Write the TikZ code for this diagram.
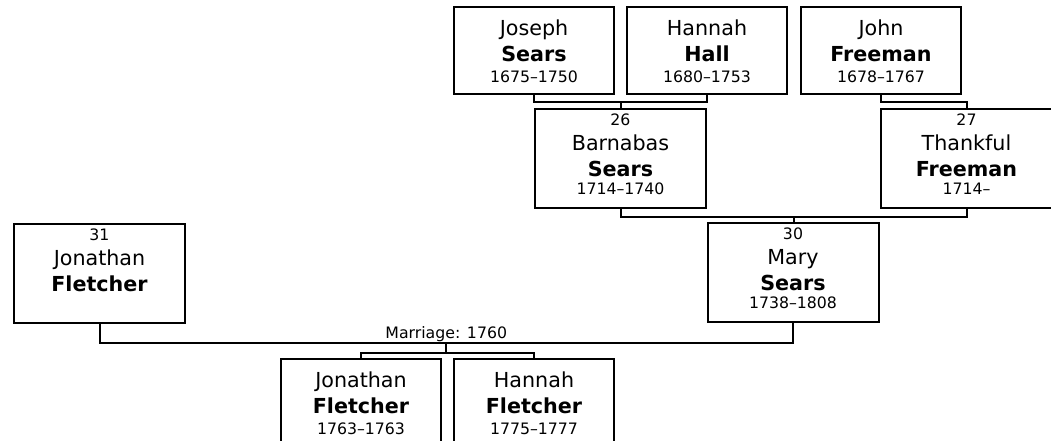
\documentclass[tikz,border=0pt]{standalone}
\usepackage{fontspec}
\setmainfont{DejaVu Sans}
\usetikzlibrary{calc}

% person cards: given name, surname, years (cardA) and with number (cardB)
\newcommand\cardA[3]{\parbox[t][65.25pt][t]{120pt}{\centering
  {\fontsize{15.5}{18}\selectfont\rule{0pt}{21.75pt}#1\par}
  {\fontsize{15.5}{19.5}\selectfont\bfseries #2\par}
  {\fontsize{11.8}{15.75}\selectfont #3\par}}}
\newcommand\cardB[4]{\parbox[t][74.25pt][t]{128.25pt}{\centering
  {\fontsize{11.8}{14}\selectfont\rule{0pt}{12.75pt}#1\par}
  {\fontsize{15.5}{18.75}\selectfont #2\par}
  {\fontsize{15.5}{19.5}\selectfont\bfseries #3\par}
  {\fontsize{11.8}{13.5}\selectfont #4\par}}}

\tikzset{
  person/.style={draw, line width=1.5pt, inner sep=0pt, anchor=north west},
  link/.style={line width=1.5pt},
}

\begin{document}
\begin{tikzpicture}[x=0.75pt, y=-0.75pt]
        \useasboundingbox (0,0) rectangle (1051,441);
        \clip (0,0) rectangle (1051,441);
        % great-grandparents
        \node[person] (joseph) at (453,6) {\cardA{Joseph}{Sears}{1675–1750}};
        \node[person] (hannahH) at (626,6) {\cardA{Hannah}{Hall}{1680–1753}};
        \node[person] (john) at (800,6) {\cardA{John}{Freeman}{1678–1767}};
        % grandparents
        \node[person] (barnabas) at (534,108) {\cardB{26}{Barnabas}{Sears}{1714–1740}};
        \node[person] (thankful) at (880,108) {\cardB{27}{Thankful}{Freeman}{1714–}};
        % parents
        \node[person] (jonathan) at (13,223) {\cardB{31}{Jonathan}{Fletcher}{}};
        \node[person] (mary) at (706.5,222) {\cardB{30}{Mary}{Sears}{1738–1808}};
        % children
        \node[person] (kidJ) at (280,358) {\cardA{Jonathan}{Fletcher}{1763–1763}};
        \node[person] (kidH) at (453,358) {\cardA{Hannah}{Fletcher}{1775–1777}};

        % couple Joseph + Hannah
        \draw[link] (joseph.south) -- ++(0,7) -| (hannahH.south);
        \coordinate (c1) at ($(joseph.south)!0.5!(hannahH.south)+(0,7)$);
        \draw[link] (c1) -- (c1 |- barnabas.north);
        % John alone
        \draw[link] (john.south) -- ++(0,7) -| (thankful.north);
        % couple Barnabas + Thankful
        \draw[link] (barnabas.south) -- ++(0,8) -| (thankful.south);
        \coordinate (c2) at ($(barnabas.south)!0.5!(thankful.south)+(0,8)$);
        \draw[link] (c2) -- (c2 |- mary.north);
        % marriage
        \draw[link] (jonathan.south) -- ++(0,19) -| (mary.south);
        \coordinate (c3) at ($(jonathan.south)!0.5!(mary.south)+(0,19)$);
        \node[anchor=base, inner sep=0pt, font=\fontsize{11.8}{14}\selectfont] (wed) at ($(c3)+(0,-4)$) {Marriage: 1760};
        \draw[link] (c3) -- ++(0,11) coordinate (c4);
        \draw[link] (kidJ.north) |- (c4) -| (kidH.north);
\end{tikzpicture}
\end{document}
